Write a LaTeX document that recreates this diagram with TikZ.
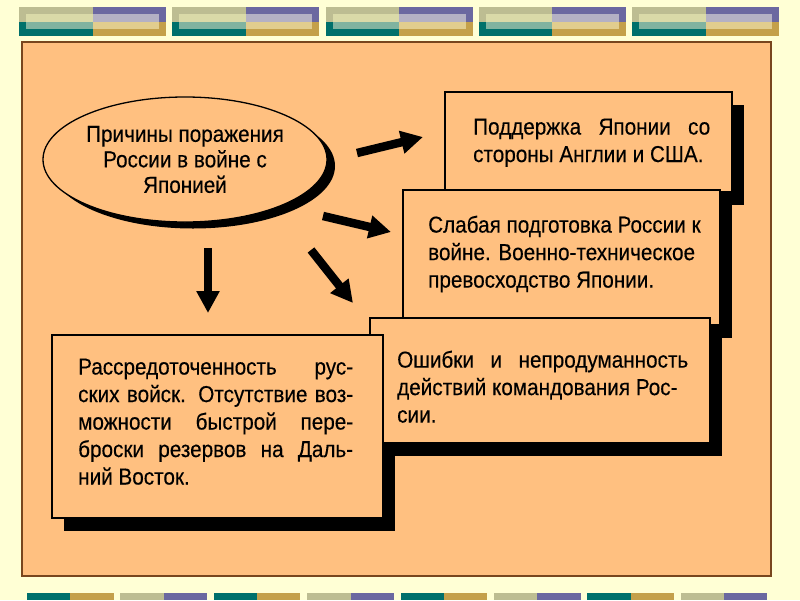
\documentclass[tikz,border=0pt]{standalone}
\usepackage{fontspec}
\setmainfont{Liberation Sans}[FakeStretch=0.9, FakeBold=0.3]
\usetikzlibrary{shapes.geometric,arrows.meta}
\definecolor{creme}{RGB}{255,255,213}
\definecolor{fond}{RGB}{255,192,128}
\definecolor{brun}{RGB}{120,70,30}
\definecolor{olive}{RGB}{189,189,146}
\definecolor{olivec}{RGB}{218,218,168}
\definecolor{sarcelle}{RGB}{0,112,107}
\definecolor{sarcellec}{RGB}{128,179,160}
\definecolor{violet}{RGB}{107,104,160}
\definecolor{violetc}{RGB}{180,177,196}
\definecolor{ocre}{RGB}{196,160,74}
\definecolor{ocrec}{RGB}{225,205,142}
\tikzset{
  boite/.style={draw=black, fill=fond, line width=1.3pt},
  ombre/.style={fill=black},
  texte/.style={anchor=north west, inner sep=0pt, align=left,
    font=\fontsize{23}{27.5}\selectfont},
  fleche/.style={line width=8.5pt, -{Triangle[length=22pt,width=22pt]}},
}
\begin{document}
\begin{tikzpicture}[x=1pt, y=-1pt]
\fill[creme] (0,0) rectangle (800,600); % fond
\useasboundingbox (0,0) rectangle (800,600);
%
\foreach \i in {0,...,4}{ % bandes du haut
  \pgfmathsetmacro\xa{19+153.25*\i}
  \fill[olive] (\xa,7) rectangle ++(73.5,14.5);
  \fill[sarcelle] (\xa,21.5) rectangle ++(73.5,14.5);
  \fill[violet] (\xa+73.5,7) rectangle ++(73.5,14.5);
  \fill[ocre] (\xa+73.5,21.5) rectangle ++(73.5,14.5);
  \fill[olivec] (\xa+7,13.5) rectangle ++(66.5,8);
  \fill[sarcellec] (\xa+7,21.5) rectangle ++(66.5,7.5);
  \fill[violetc] (\xa+73.5,13.5) rectangle ++(66.5,8);
  \fill[ocrec] (\xa+73.5,21.5) rectangle ++(66.5,7.5);
}
\foreach \i/\ca/\cb in {0/sarcelle/ocre,1/olive/violet,2/sarcelle/ocre,3/olive/violet,
  4/sarcelle/ocre,5/olive/violet,6/sarcelle/ocre,7/olive/violet}{ % bandes du bas
  \pgfmathsetmacro\xa{27+93.4*\i}
  \fill[\ca] (\xa,593) rectangle ++(43.3,7);
  \fill[\cb] (\xa+43.3,593) rectangle ++(43.3,7);
}
%
\draw[brun, fill=fond, line width=1.2pt] (22,42) rectangle (771,576); % panneau
%
\fill[black] (193,166) ellipse [x radius=142, y radius=62.5]; % ombre de l'ellipse
\node[ellipse, boite, inner sep=0pt, minimum width=284, minimum height=125,
  align=center, font=\fontsize{23}{25.5}\selectfont] (causes) at (185,159.5)
  {Причины поражения\\России в войне с\\Японией};
%
\fill[ombre] (457,105) rectangle (744,205); % ombres des cadres
\fill[ombre] (415,203) rectangle (732,338);
\fill[ombre] (382,331) rectangle (722,456);
\fill[ombre] (64,348) rectangle (395,531);
%
\draw[boite] (445,92) rectangle (732,192); % cadres
\draw[boite] (403,190) rectangle (720,325);
\draw[boite] (370,318) rectangle (710,443);
\draw[boite] (52,335) rectangle (383,518);
%
\node[texte] (appui) at (473,118.5)
  {\makebox[237pt][s]{Поддержка Японии со}\\стороны Англии и США.};
\node[texte] (armee) at (428,215.5)
  {Слабая подготовка России к\\войне. Военно-техническое\\превосходство Японии.};
\node[texte] (erreurs) at (397,350.5)
  {\makebox[291pt][s]{Ошибки и непродуманность}\\действий командования Рос-\\сии.};
\node[texte] (troupes) at (78,358.5)
  {\makebox[275pt][s]{Рассредоточенность рус-}\\
   \makebox[275pt][s]{ских войск. Отсутствие воз-}\\
   \makebox[275pt][s]{можности быстрой пере-}\\
   \makebox[275pt][s]{броски резервов на Даль-}\\
   ний Восток.};
%
\coordinate (d1) at (357,153); \coordinate (f1) at (423,137);
\coordinate (d2) at (323,216); \coordinate (f2) at (391,232);
\coordinate (d3) at (311,250); \coordinate (f3) at (353,303);
\coordinate (d4) at (208,248); \coordinate (f4) at (208,313);
\draw[fleche] (d1) -- (f1); % fleches
\draw[fleche] (d2) -- (f2);
\draw[fleche] (d3) -- (f3);
\draw[fleche] (d4) -- (f4);
\end{tikzpicture}
\end{document}
